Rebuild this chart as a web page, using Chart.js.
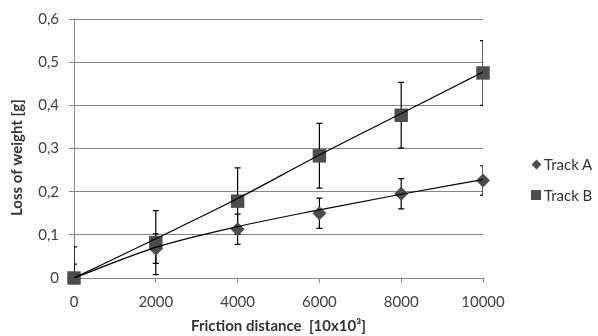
<!DOCTYPE html>
<html>
<head>
<meta charset="utf-8">
<script src="https://cdn.jsdelivr.net/npm/chart.js@4"></script>
<style>
  body { margin: 0; background: #fff; }
  #wrap { position: relative; width: 598px; height: 336px; }
  .leg { position: absolute; left: 531px; font: 15px Lato, sans-serif; color: #333; display: flex; align-items: center; }
  .leg i { display: inline-block; background: #4d4d4d; margin-right: 3px; }
  .leg .dia { width: 7px; height: 7px; transform: rotate(45deg); margin-left: 2px; margin-right: 4px; }
  .leg .sq { width: 10px; height: 10px; }
</style>
</head>
<body>
<div id="wrap">
  <canvas id="chart" width="598" height="336"></canvas>
  <div class="leg" style="top:155px"><i class="dia"></i>Track A</div>
  <div class="leg" style="top:186px"><i class="sq"></i>Track B</div>
</div>
<script>
// ================================
// DATA
// ================================

let distance = [0, 2000, 4000, 6000, 8000, 10000];

// measured points
let trackA = [0, 0.068, 0.113, 0.150, 0.195, 0.226];
let trackB = [0, 0.082, 0.178, 0.283, 0.377, 0.475];

// +/- error bar sizes
let errA = [0.032, 0.034, 0.035, 0.035, 0.035, 0.034];
let errB = [0.072, 0.074, 0.077, 0.075, 0.076, 0.075];

// trend lines as drawn
let trendA = [0, 0.071, 0.119, 0.158, 0.194, 0.228];
let trendB = [0, 0.091, 0.184, 0.285, 0.381, 0.477];

let yTicks = [0, 0.1, 0.2, 0.3, 0.4, 0.5, 0.6];

let markerColor = "#4d4d4d";

function pts(values) {
  return distance.map((d, i) => ({ x: d, y: values[i] }));
}

// ================================
// ERROR BARS PLUGIN
// ================================

let errorBars = {
  id: "errorBars",
  beforeDatasetsDraw(chart) {
    let c = chart.ctx;
    let xs = chart.scales.x, ys = chart.scales.y;
    let area = chart.chartArea;
    c.save();
    c.beginPath();
    c.rect(area.left, area.top, area.right - area.left, area.bottom - area.top);
    c.clip();
    c.strokeStyle = "#000";
    c.lineWidth = 1.2;
    [[trackA, errA], [trackB, errB]].forEach(([vals, errs]) => {
      distance.forEach((d, i) => {
        let px = xs.getPixelForValue(d);
        let top = ys.getPixelForValue(vals[i] + errs[i]);
        let bot = ys.getPixelForValue(vals[i] - errs[i]);
        c.beginPath();
        c.moveTo(px, top); c.lineTo(px, bot);
        c.moveTo(px - 3, top); c.lineTo(px + 3, top);
        c.moveTo(px - 3, bot); c.lineTo(px + 3, bot);
        c.stroke();
      });
    });
    c.restore();
  }
};

// ================================
// CHART
// ================================

let ctx = document.getElementById("chart").getContext("2d");

let chart = new Chart(ctx, {
  type: "scatter",
  data: {
    datasets: [
      {
        label: "Track A",
        data: pts(trackA),
        pointStyle: "rectRot",
        pointRadius: 7,
        backgroundColor: markerColor,
        borderColor: markerColor,
        borderWidth: 0,
        clip: false,
        order: 2
      },
      {
        label: "Track B",
        data: pts(trackB),
        pointStyle: "rect",
        pointRadius: 9.5,
        backgroundColor: markerColor,
        borderColor: markerColor,
        borderWidth: 0,
        clip: false,
        order: 2
      },
      {
        label: "trend A",
        type: "line",
        data: pts(trendA),
        borderColor: "#000",
        borderWidth: 1.2,
        pointRadius: 0,
        cubicInterpolationMode: "monotone",
        fill: false,
        order: 1
      },
      {
        label: "trend B",
        type: "line",
        data: pts(trendB),
        borderColor: "#000",
        borderWidth: 1.2,
        pointRadius: 0,
        cubicInterpolationMode: "monotone",
        fill: false,
        order: 1
      }
    ]
  },
  options: {
    responsive: false,
    animation: false,
    layout: { padding: { left: 4, top: 18, right: 115, bottom: 0 } },
    plugins: {
      legend: { display: false },
      tooltip: { enabled: false }
    },
    scales: {
      x: {
        type: "linear",
        min: 0,
        max: 10000,
        afterBuildTicks: s => { s.ticks = distance.map(v => ({ value: v })); },
        afterFit: s => { s.height = 58; },
        border: { color: "#868686", width: 1 },
        grid: { drawOnChartArea: false, drawTicks: true, tickLength: 5, color: "#868686" },
        ticks: {
          font: { family: "Lato", size: 15 },
          color: "#404040",
          padding: 10,
          maxRotation: 0,
          callback: v => String(v)
        },
        title: {
          display: true,
          text: "Friction distance  [10x10³]",
          font: { family: "Lato", size: 15, weight: "bold" },
          color: "#333",
          padding: { top: 1, bottom: 1 }
        }
      },
      y: {
        min: 0,
        max: 0.6,
        afterBuildTicks: s => { s.ticks = yTicks.map(v => ({ value: v })); },
        afterFit: s => { s.width = 70; },
        border: { color: "#868686", width: 1 },
        grid: { color: "#868686", tickLength: 5 },
        ticks: {
          font: { family: "Lato", size: 15 },
          color: "#404040",
          padding: 10,
          callback: v => v === 0 ? "0" : v.toFixed(1).replace(".", ",")
        },
        title: {
          display: true,
          text: "Loss of weight [g]     ",
          font: { family: "Lato", size: 15, weight: "bold" },
          color: "#333",
          padding: { top: 4, bottom: 4 }
        }
      }
    }
  },
  plugins: [errorBars]
});
</script>
</body>
</html>
